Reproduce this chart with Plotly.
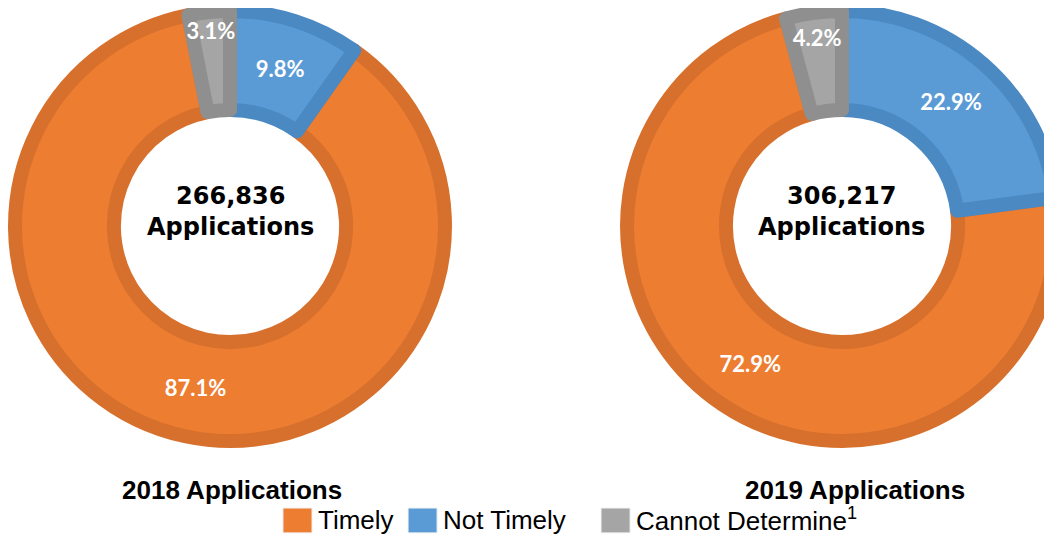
import plotly.graph_objects as go

# shares in percent, order: Timely, Not Timely, Cannot Determine
LABELS = ["Timely", "Not Timely", "Cannot Determine"]
LEGEND_TEXT = ["Timely", "Not Timely", "Cannot Determine<sup>1</sup>"]
YEARS = ["2018", "2019"]
TOTALS = [266836, 306217]
SHARES = {
    "2018": [87.1, 9.8, 3.1],
    "2019": [72.9, 22.9, 4.2],
}

FILL = ["#ED7D31", "#5B9BD5", "#A5A5A5"]
EDGE = ["#D6702C", "#4A89C2", "#8F8F8F"]

# page body adds 8px margin, so the figure is a bit shorter than the window
W, H = 1080, 527

# donut placement (paper coords)
DOMAINS = [
    dict(x=[0.0065, 0.4046], y=[0.1784, 0.9943]),
    dict(x=[0.5732, 0.9713], y=[0.1784, 0.9943]),
]
CENTER_X = [0.2056, 0.7722]
TITLE_X = [0.2074, 0.7843]

fig = go.Figure()

for i, yr in enumerate(YEARS):
    vals = SHARES[yr]
    # Not Timely starts at 12 o'clock going clockwise, Timely follows
    rot = 360 * vals[1] / sum(vals)
    fig.add_trace(go.Pie(
        labels=LABELS,
        values=vals,
        sort=False,
        direction="counterclockwise",
        rotation=rot,
        hole=0.54,
        domain=DOMAINS[i],
        marker=dict(colors=FILL, line=dict(color=EDGE, width=14)),
        texttemplate="%{value:.1f}%",
        textposition="inside",
        insidetextorientation="horizontal",
        insidetextfont=dict(family="Lato", size=22, color="white", weight="bold"),
        showlegend=False,
        hoverinfo="label+percent",
    ))

    fig.add_annotation(
        x=CENTER_X[i], y=0.6148, xref="paper", yref="paper",
        xanchor="center", yanchor="middle",
        text=f"{TOTALS[i]:,}<br>Applications", showarrow=False,
        font=dict(family="DejaVu Sans", size=24, color="black", weight="bold"),
    )
    fig.add_annotation(
        x=TITLE_X[i], y=0.0854, xref="paper", yref="paper",
        xanchor="center", yanchor="middle",
        text=f"{yr} Applications", showarrow=False,
        font=dict(family="Liberation Sans, Arial", size=26, color="black", weight="bold"),
    )

# hand made legend so the swatches can be big
sw_x = [0.2546, 0.3704, 0.5491]
sw_w = 0.0269
for j in range(len(LABELS)):
    fig.add_shape(
        type="rect", xref="paper", yref="paper",
        x0=sw_x[j], x1=sw_x[j] + sw_w, y0=0.004, y1=0.0512,
        fillcolor=FILL[j], line=dict(color="#F2F2F2", width=1),
    )
    fig.add_annotation(
        x=sw_x[j] + sw_w + 0.004, y=0.0285, xref="paper", yref="paper",
        xanchor="left", yanchor="middle", text=LEGEND_TEXT[j], showarrow=False,
        font=dict(family="Liberation Sans, Arial", size=26, color="black"),
    )

fig.update_layout(
    width=W, height=H,
    autosize=False,
    margin=dict(l=0, r=0, t=0, b=0),
    paper_bgcolor="white",
    plot_bgcolor="white",
    uniformtext=dict(minsize=22, mode="show"),
)

fig.write_html("out.html")
